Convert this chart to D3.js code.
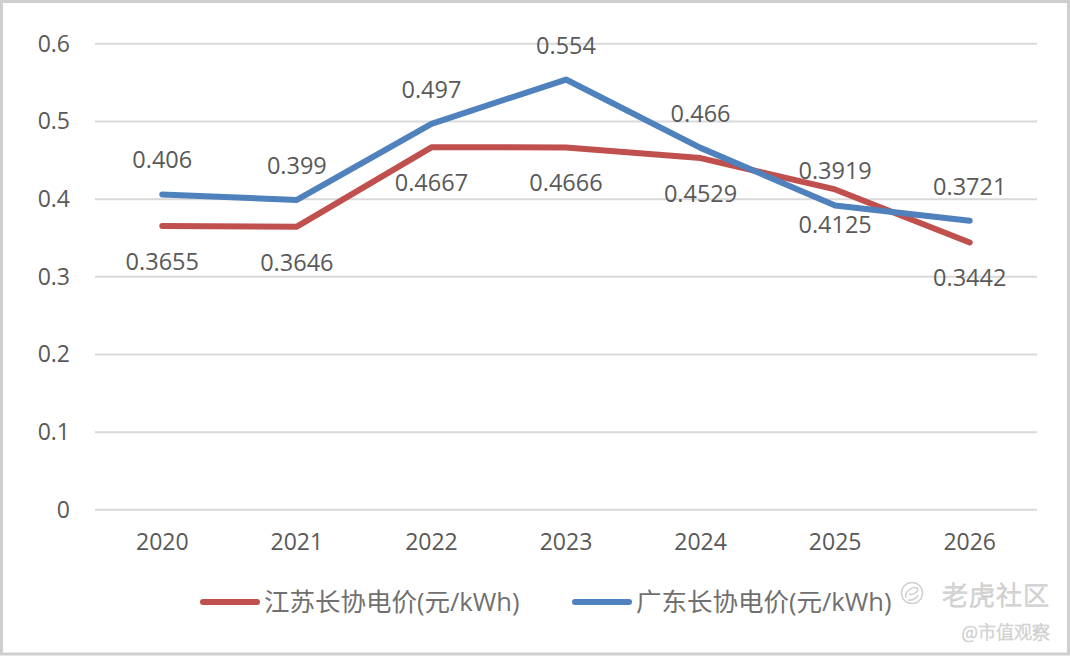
<!DOCTYPE html>
<html><head><meta charset="utf-8">
<script src="https://cdn.jsdelivr.net/npm/d3@7/dist/d3.min.js"></script>
<style>
html,body{margin:0;padding:0;background:#fff;}
svg{display:block;}
</style></head>
<body>
<svg id="chart" width="1070" height="657"></svg>
<script>
const years = ["2020","2021","2022","2023","2024","2025","2026"];
const jiangsu = [0.3655, 0.3646, 0.4667, 0.4666, 0.4529, 0.4125, 0.3442];
const guangdong = [0.406, 0.399, 0.497, 0.554, 0.466, 0.3919, 0.3721];
const yTicks = [0, 0.1, 0.2, 0.3, 0.4, 0.5, 0.6];
const seriesNames = ["江苏长协电价(元/kWh)", "广东长协电价(元/kWh)"];

(function(){
const W = 1070, H = 657;
const svg = d3.select("#chart");
const font = "'Open Sans', 'Noto Sans CJK SC', sans-serif";
const textColor = "#595959";

// frame
svg.append("rect").attr("x",1.5).attr("y",1.5).attr("width",W-3).attr("height",H-4.5)
  .attr("fill","#fff").attr("stroke","#cfcfcf").attr("stroke-width",3);

const pLeft = 95, pRight = 1037, pTop = 43.8, pBottom = 509.8;
const x = d3.scaleBand().domain(years).range([pLeft, pRight]);
const y = d3.scaleLinear().domain([0, 0.6]).range([pBottom, pTop]);

// gridlines
svg.append("g").selectAll("line").data(yTicks).join("line")
  .attr("x1", pLeft).attr("x2", pRight)
  .attr("y1", d => y(d)).attr("y2", d => y(d))
  .attr("stroke", "#d9d9d9").attr("stroke-width", 2);

// y axis labels
const yAxis = d3.axisLeft(y).tickValues(yTicks).tickFormat(d => d === 0 ? "0" : d3.format(".1f")(d)).tickSize(0).tickPadding(25);
const ya = svg.append("g").attr("transform", `translate(${pLeft},0)`).call(yAxis);
ya.select(".domain").remove();
ya.selectAll("text").attr("font-family", font).attr("font-size", 23).attr("fill", textColor);

// x axis labels
const xAxis = d3.axisBottom(x).tickSize(0).tickPadding(24);
const xa = svg.append("g").attr("transform", `translate(0,${pBottom})`).call(xAxis);
xa.select(".domain").remove();
xa.selectAll("text").attr("font-family", font).attr("font-size", 23).attr("fill", textColor);

const cx = d => x(d) + x.bandwidth()/2;
const line = d3.line().x((d,i) => cx(years[i])).y(d => y(d));

const series = [
  {name: seriesNames[0], values: jiangsu, color: "#c0504d", labelDy: 44},
  {name: seriesNames[1], values: guangdong, color: "#4f81bd", labelDy: -26}
];

series.forEach(s => {
  svg.append("path").datum(s.values).attr("d", line)
    .attr("fill","none").attr("stroke", s.color).attr("stroke-width", 6)
    .attr("stroke-linejoin","round").attr("stroke-linecap","round");
});

series.forEach(s => {
  svg.append("g").selectAll("text").data(s.values).join("text")
    .attr("x", (d,i) => cx(years[i]))
    .attr("y", d => y(d) + s.labelDy)
    .attr("text-anchor","middle")
    .attr("font-family", font).attr("font-size", 23.5).attr("fill", textColor)
    .text(d => String(d));
});

// legend
const legendY = 602;
const legendItems = [{x: 200}, {x: 572}];
series.forEach((s, i) => {
  const lx = legendItems[i].x;
  svg.append("line").attr("x1", lx+3).attr("x2", lx+57).attr("y1", legendY).attr("y2", legendY)
    .attr("stroke", s.color).attr("stroke-width", 6).attr("stroke-linecap","round");
  svg.append("text").attr("x", lx+64).attr("y", legendY).attr("dy","0.35em")
    .attr("font-family", font).attr("font-size", 25.5).attr("fill", "#707070")
    .text(s.name);
});

// watermark
const wm = svg.append("g").attr("opacity", 0.7);
wm.append("circle").attr("cx", 912).attr("cy", 593).attr("r", 10.5)
  .attr("fill","none").attr("stroke","#bdbdbd").attr("stroke-width",1.5);
wm.append("path").attr("d","M906,598 C904,592 912,586 917,588 C920,590 914,596 909,594 M908,600 C912,601 917,598 918,595")
  .attr("fill","none").attr("stroke","#bdbdbd").attr("stroke-width",1.5);
wm.append("text").attr("x", 942).attr("y", 596).attr("dy","0.35em")
  .attr("font-family","'Noto Sans CJK SC', sans-serif").attr("font-size", 26).attr("font-weight", 300)
  .attr("fill","#fff").attr("stroke","#b8b8b8").attr("stroke-width",1)
  .attr("letter-spacing", 1).text("老虎社区");
wm.append("text").attr("x", 1050).attr("y", 633).attr("dy","0.35em").attr("text-anchor","end")
  .attr("font-family","'Noto Sans CJK SC', sans-serif").attr("font-size", 18).attr("font-weight", 300)
  .attr("fill","#fff").attr("stroke","#b8b8b8").attr("stroke-width",0.7)
  .text("@市值观察");
})();
</script>
</body></html>
